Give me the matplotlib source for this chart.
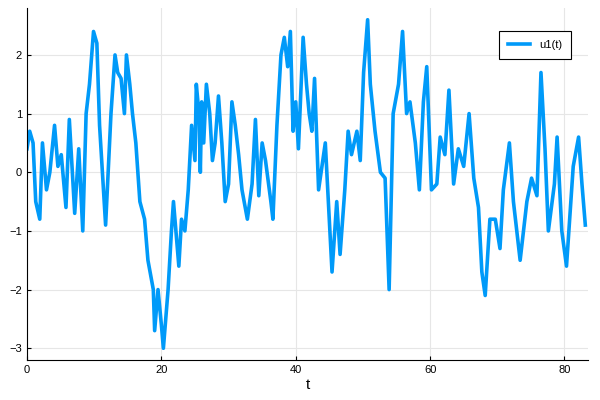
import matplotlib
matplotlib.use("Agg")
import matplotlib.pyplot as plt

t = [0, 0.4, 0.9, 1.3, 1.9, 2.3, 2.9, 3.4, 4.1, 4.6, 5.1, 5.8, 6.3, 7.1, 7.7, 8.3,
     8.8, 9.3, 9.9, 10.4, 10.8, 11.7, 12.5, 13.1, 13.5, 14.0, 14.5, 14.8, 15.3,
     15.7, 16.2, 16.8, 17.5, 18.0, 18.8, 19.0, 19.5, 20.0, 20.3, 21.0, 21.5, 21.8,
     22.3, 22.6, 23.0, 23.5, 24.0, 24.5, 25.0, 25.2, 25.6, 25.8, 26.0, 26.3, 26.7,
     27.2, 27.6, 28.0, 28.5, 29.0, 29.5, 30.0, 30.5, 31.0, 31.5, 32.0, 32.8, 33.5,
     34.0, 34.5, 35.0, 35.5, 36.3, 36.6, 37.2, 37.8, 38.3, 38.8, 39.2, 39.6, 40.0,
     40.4, 41.1, 41.6, 42.0, 42.4, 42.8, 43.4, 44.4, 45.4, 46.1, 46.6, 47.3, 47.8,
     48.3, 49.1, 49.6, 50.1, 50.7, 51.1, 51.8, 52.6, 53.3, 53.9, 54.5, 55.3, 55.9,
     56.5, 57.0, 57.8, 58.4, 59.0, 59.5, 60.2, 61.0, 61.5, 62.2, 62.8, 63.5, 64.2,
     65.0, 65.8, 66.5, 67.2, 67.7, 68.2, 68.9, 69.7, 70.4, 70.9, 71.8, 72.4, 73.4,
     74.4, 75.1, 75.9, 76.5, 77.1, 77.6, 78.5, 78.9, 79.6, 80.3, 81.3, 82.1, 82.6,
     83.1]
u1 = [0.4, 0.7, 0.5, -0.5, -0.8, 0.5, -0.3, 0.0, 0.8, 0.1, 0.3, -0.6, 0.9, -0.7,
      0.4, -1.0, 1.0, 1.5, 2.4, 2.2, 0.8, -0.9, 1.0, 2.0, 1.7, 1.6, 1.0, 2.0, 1.5,
      1.0, 0.5, -0.5, -0.8, -1.5, -2.0, -2.7, -2.0, -2.6, -3.0, -2.0, -1.0, -0.5,
      -1.2, -1.6, -0.8, -1.0, -0.3, 0.8, 0.2, 1.5, 1.0, 0.0, 1.2, 0.5, 1.5, 1.0,
      0.2, 0.5, 1.3, 0.5, -0.5, -0.2, 1.2, 0.8, 0.3, -0.3, -0.8, -0.2, 0.9, -0.4,
      0.5, 0.2, -0.5, -0.8, 0.8, 2.0, 2.3, 1.8, 2.4, 0.7, 1.2, 0.4, 2.3, 1.5, 1.0,
      0.7, 1.6, -0.3, 0.5, -1.7, -0.5, -1.4, -0.3, 0.7, 0.3, 0.7, 0.2, 1.7, 2.6,
      1.5, 0.7, 0.0, -0.1, -2.0, 1.0, 1.5, 2.4, 1.0, 1.2, 0.5, -0.3, 1.2, 1.8,
      -0.3, -0.2, 0.6, 0.3, 1.4, -0.2, 0.4, 0.1, 1.0, -0.1, -0.6, -1.7, -2.1, -0.8,
      -0.8, -1.3, -0.3, 0.5, -0.5, -1.5, -0.5, -0.1, -0.4, 1.7, 0.4, -1.0, -0.2,
      0.6, -1.0, -1.6, 0.1, 0.6, -0.2, -0.9]

plt.rcParams['font.family'] = ['Liberation Sans', 'DejaVu Sans']
fig, ax = plt.subplots(figsize=(6, 4), dpi=100)
ax.plot(t, u1, color='#009af9', linewidth=2.6, label='u1(t)')
ax.set_xlim(0, 83.5)
ax.set_ylim(-3.2, 2.8)
ax.set_xticks([0, 20, 40, 60, 80])
ax.set_yticks([-3, -2, -1, 0, 1, 2])
ax.set_xlabel('t', fontsize=11, labelpad=2)
ax.grid(True, color='#e6e6e6', linewidth=0.8)
ax.set_axisbelow(True)
for side in ['top', 'right']:
    ax.spines[side].set_visible(False)
ax.tick_params(labelsize=8, direction='in', length=3)
leg = ax.legend(loc='upper right', fontsize=8, fancybox=False, framealpha=1,
                edgecolor='black', borderpad=0.8, bbox_to_anchor=(0.98, 0.95))
leg.get_frame().set_linewidth(0.8)
fig.subplots_adjust(left=0.045, right=0.98, top=0.98, bottom=0.1)
fig.savefig('out.png')
